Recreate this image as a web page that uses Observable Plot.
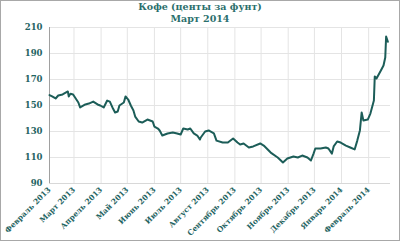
<!DOCTYPE html>
<html><head><meta charset="utf-8">
<script src="https://cdn.jsdelivr.net/npm/d3@7"></script>
<script src="https://cdn.jsdelivr.net/npm/@observablehq/plot@0.6"></script>
<style>
html,body{margin:0;padding:0;background:#fff;}
#wrap{position:relative;width:400px;height:241px;overflow:hidden;}
#frame{position:absolute;left:0;top:0;width:400px;height:241px;box-sizing:border-box;border:1px solid #a8a8a8;pointer-events:none;}
#title{position:absolute;left:0;top:1px;width:400px;text-align:center;font-family:"DejaVu Serif",serif;font-weight:bold;font-size:9.5px;line-height:12px;color:#2b6f6c;}
</style></head>
<body><div id="wrap"><div id="title">Кофе (центы за фунт)<br>Март 2014</div><div id="chart"></div><div id="frame"></div></div>
<script>
const dates = ["2013-02-01","2013-02-04","2013-02-08","2013-02-11","2013-02-16","2013-02-22","2013-02-23","2013-02-25","2013-02-28",
"2013-03-06","2013-03-08","2013-03-14","2013-03-18","2013-03-23","2013-03-28","2013-03-31",
"2013-04-04","2013-04-08","2013-04-11","2013-04-14","2013-04-17","2013-04-20","2013-04-22","2013-04-27","2013-04-29",
"2013-05-02","2013-05-05","2013-05-08","2013-05-10","2013-05-14","2013-05-18","2013-05-24","2013-05-30",
"2013-06-01","2013-06-05","2013-06-07","2013-06-10","2013-06-16","2013-06-22","2013-06-27",
"2013-07-01","2013-07-04","2013-07-09","2013-07-12","2013-07-16","2013-07-20","2013-07-23","2013-07-24","2013-07-29",
"2013-08-02","2013-08-08","2013-08-11","2013-08-18","2013-08-24","2013-08-30",
"2013-09-04","2013-09-07","2013-09-11","2013-09-17","2013-09-22","2013-09-30",
"2013-10-04","2013-10-12","2013-10-20","2013-10-26","2013-10-31",
"2013-11-07","2013-11-12","2013-11-17","2013-11-23","2013-11-27","2013-11-30",
"2013-12-02","2013-12-08","2013-12-14","2013-12-17","2013-12-21","2013-12-23","2013-12-27","2013-12-31",
"2014-01-06","2014-01-11","2014-01-16","2014-01-19","2014-01-22","2014-01-24","2014-01-26","2014-01-31",
"2014-02-03","2014-02-07","2014-02-08","2014-02-10","2014-02-15","2014-02-18","2014-02-20","2014-02-21","2014-02-23"];
const prices = [158,157,155.4,157.7,158.5,160.8,157,159,158.5,
152.3,148.5,150.8,151.5,153,150.8,150,
148.5,153.8,153,148.5,144.6,145.4,150,152.3,157,
154.6,150,146.2,141.5,137.7,136.9,139.2,137.7,
133.8,132.3,130.8,126.9,128.5,129.2,128.5,
127.7,132.3,131.5,132.3,128.5,126.9,123.8,125.4,130,
130.8,128.5,123,121.5,121.5,124.6,
121.5,120,120.8,117.7,118.5,120.8,
119.2,113.8,110,106.2,109.2,
110.8,110,111.5,110,107.7,113,
116.9,116.9,117.7,116.9,113,118.5,122.3,121.5,
119.2,117.7,116.2,123,130.8,144.6,138.5,139.2,
143.8,153.8,172.3,170.8,176.9,180.8,186.9,203,199];
const monthLabels = ["Февраль 2013","Март 2013","Апрель 2013","Май 2013","Июнь 2013","Июль 2013","Август 2013","Сентябрь 2013","Октябрь 2013","Ноябрь 2013","Декабрь 2013","Январь 2014","Февраль 2014"];
const yTicks = [90,110,130,150,170,190,210];

const data = dates.map((d,i) => ({date: new Date(d + "T00:00:00Z"), price: prices[i]}));
const monthTicks = monthLabels.map((_, i) => new Date(Date.UTC(2013, 1 + i, 1)));
const labelOf = new Map(monthTicks.map((d,i) => [+d, monthLabels[i]]));

const chart = Plot.plot({
  width: 400, height: 241,
  marginTop: 27, marginBottom: 58, marginLeft: 49, marginRight: 10,
  style: {fontFamily: "DejaVu Serif", fontWeight: "bold", fontSize: "8px", color: "#1f6462", background: "transparent"},
  x: {type: "utc", domain: [new Date("2013-02-01T00:00:00Z"), new Date("2014-02-26T00:00:00Z")]},
  y: {domain: [90, 210]},
  marks: [
    Plot.gridX(monthTicks, {stroke: "#e4e4e4", strokeOpacity: 1}),
    Plot.gridY(yTicks, {stroke: "#e4e4e4", strokeOpacity: 1}),
    Plot.ruleY([90], {stroke: "#d8d8d8"}),
    Plot.ruleX([new Date("2013-02-01T00:00:00Z")], {stroke: "#a0a0a0"}),
    Plot.axisY(yTicks, {tickSize: 0, tickPadding: 7, label: null, fontSize: 8.5}),
    Plot.axisX(monthTicks, {tickSize: 0, tickPadding: 5, tickRotate: -45, label: null, tickFormat: d => labelOf.get(+d), fontSize: 7.5}),
    Plot.lineY(data, {x: "date", y: "price", stroke: "#1c5d58", strokeWidth: 2, strokeLinejoin: "round"})
  ]
});
document.getElementById("chart").appendChild(chart);
</script></body></html>
